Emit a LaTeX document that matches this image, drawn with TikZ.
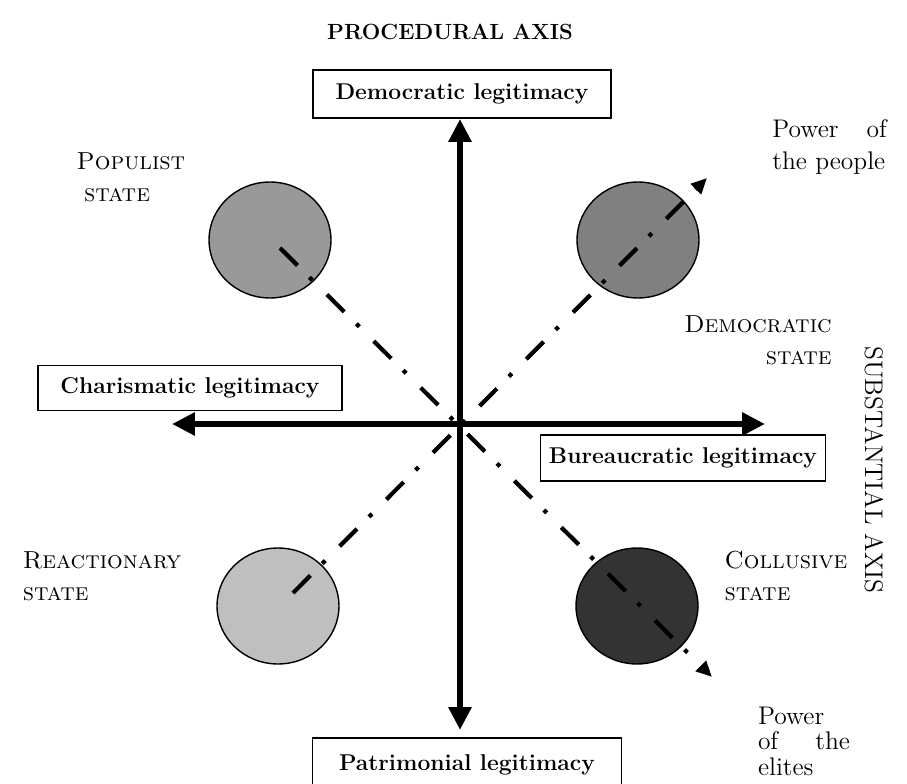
\documentclass[tikz,border=0pt]{standalone}
\usepackage{tikz}
\usetikzlibrary{arrows.meta,positioning,shapes.geometric}

\begin{document}
\begin{tikzpicture}[
  x=0.02cm, y=-0.02cm,
  legit/.style={draw, line width=0.8pt, inner sep=0pt,
                font=\fontsize{13}{15}\selectfont\bfseries},
  statecirc/.style={ellipse, draw, line width=0.8pt, inner sep=0pt,
                    minimum width=2.44cm, minimum height=2.32cm},
  statelabel/.style={font=\fontsize{14}{18}\selectfont\scshape, inner sep=0pt},
  powerlabel/.style={font=\fontsize{14.5}{18.5}\selectfont, inner sep=0pt, align=left},
  axis/.style={line width=3.4pt,
               {Triangle[length=13pt,width=12.5pt]}-{Triangle[length=13pt,width=12.5pt]}},
  power/.style={line width=2.4pt, dash pattern=on 14pt off 9.6pt on 2.4pt off 11.6pt,
                -{Triangle[length=9pt,width=8pt]}}
]
\useasboundingbox (0,0) rectangle (907,784);

% titles of the two axes
\node[font=\fontsize{12.5}{14}\selectfont\bfseries] (proc) at (450,32) {PROCEDURAL AXIS};
\node[font=\fontsize{14.5}{16}\selectfont, rotate=-90] (subst) at (874,470) {SUBSTANTIAL AXIS};

% the four kinds of legitimacy
\node[legit, minimum width=5.96cm, minimum height=0.96cm] (demo) at (462,94) {Democratic legitimacy};
\node[legit, minimum width=6.08cm, minimum height=0.9cm] (charis) at (190,388) {Charismatic legitimacy};
\node[legit, minimum width=5.7cm, minimum height=0.92cm] (bureau) at (683,458) {Bureaucratic legitimacy};
\node[legit, minimum width=6.18cm, minimum height=1.08cm] (patri) at (467,765) {Patrimonial legitimacy};

% the four states
\node[statecirc, fill=black!40] (populist) at (270,240) {};
\node[statecirc, fill=black!50] (democratic) at (638,240) {};
\node[statecirc, fill=black!25] (reactionary) at (278,606) {};
\node[statecirc, fill=black!80] (collusive) at (637,606) {};

\node[statelabel, align=left] (popl) at (131,177) {Populist\\\hspace{0.3em}state};
\node[statelabel, align=right] (deml) at (758,340) {Democratic\\state};
\node[statelabel, align=left] (reacl) at (102,576) {Reactionary\\state};
\node[statelabel, align=left] (coll) at (786,576) {Collusive\\state};

% axes
\coordinate (O) at (460,424);
\coordinate (vtop) at (460,119);
\coordinate (vbot) at (460,730);
\coordinate (hleft) at (172,424);
\coordinate (hright) at (765,424);
\draw[axis] (vbot) -- (vtop);
\draw[axis] (hleft) -- (hright);

% power lines
\coordinate (pstart) at (293,593);
\coordinate (pend) at (707,178);
\coordinate (estart) at (280,248);
\coordinate (eend) at (712,677);
\draw[power] (pstart) -- (pend);
\draw[power] (estart) -- (eend);

\node[powerlabel, anchor=west] (people) at (772,147) {Power\hspace{1.1em}of\\the people};
\node[powerlabel, text width=1.84cm, font=\fontsize{14.5}{14.5}\selectfont] (elites) at (804,741) {Power\\of\hfill the\\elites};
\end{tikzpicture}
\end{document}
